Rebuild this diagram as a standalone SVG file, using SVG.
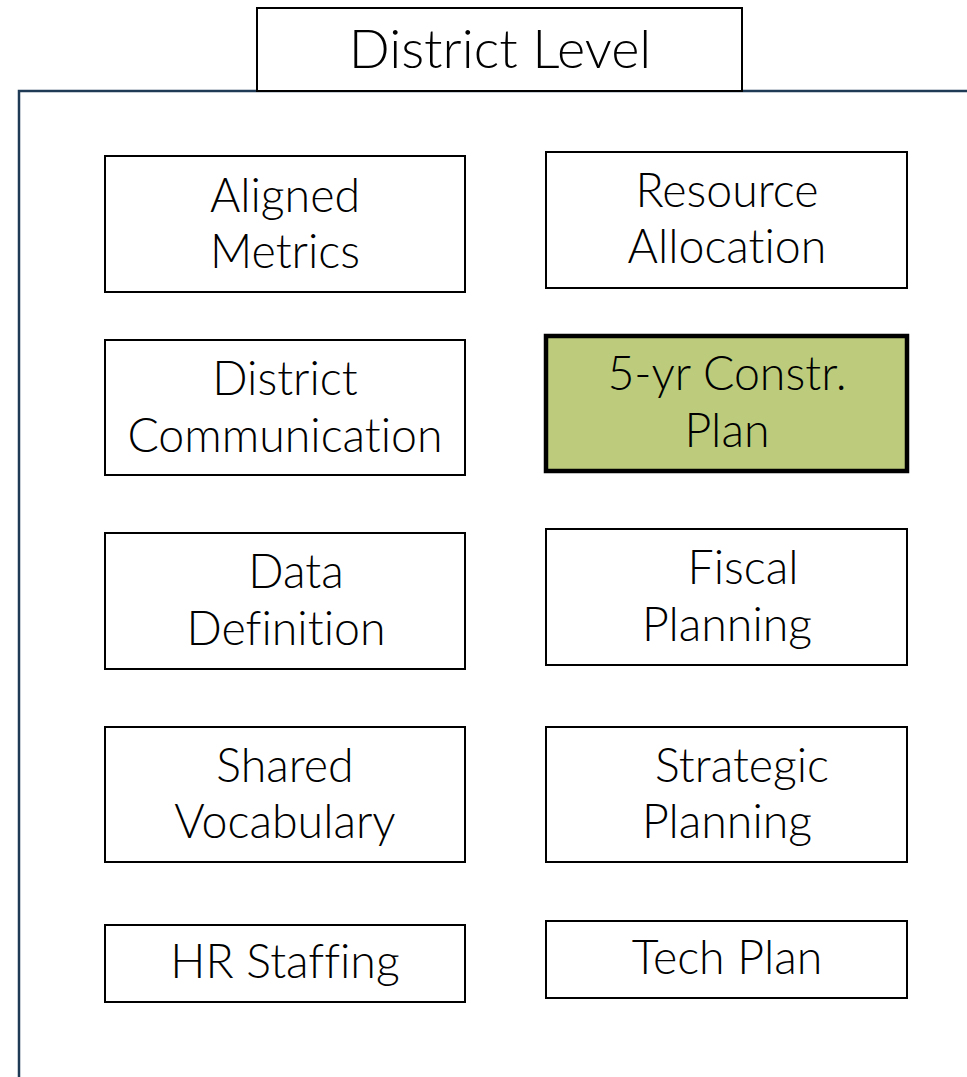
<svg xmlns="http://www.w3.org/2000/svg" width="967" height="1077" viewBox="0 0 967 1077">
<style>
.box{fill:#fff;stroke:#000;stroke-width:2}
.hl{fill:#bccc7c;stroke:#000;stroke-width:4.5}
text{font-family:Lato,"Open Sans","Liberation Sans",sans-serif;font-weight:300;font-size:46.5px;fill:#000;text-anchor:middle;font-variant-ligatures:none}
.frame{fill:none;stroke:#1f3a55;stroke-width:2.5}
</style>
<rect width="967" height="1077" fill="#fff"/>
<g id="connectors"></g>
<path class="frame" d="M19,1077 V91 H967"/>
<g id="title"><rect class="box" x="257" y="8" width="485" height="83"/><text x="500" y="68" style="font-size:54px">District Level</text></g>
<g id="aligned-metrics"><rect class="box" x="105" y="156" width="360" height="136"/><text x="285" y="212">Aligned</text><text x="285" y="268">Metrics</text></g>
<g id="resource-allocation"><rect class="box" x="546" y="152" width="361" height="136"/><text x="727" y="207">Resource</text><text x="727" y="263">Allocation</text></g>
<g id="district-communication"><rect class="box" x="105" y="340" width="360" height="135"/><text x="285" y="395">District</text><text x="285" y="452">Communication</text></g>
<g id="five-yr-plan"><rect class="hl" x="546" y="336" width="361" height="135"/><text x="727" y="390">5-yr Constr.</text><text x="727" y="447">Plan</text></g>
<g id="data-definition"><rect class="box" x="105" y="533" width="360" height="136"/><text x="296" y="588">Data</text><text x="286" y="645">Definition</text></g>
<g id="fiscal-planning"><rect class="box" x="546" y="529" width="361" height="136"/><text x="743" y="584">Fiscal</text><text x="727" y="641">Planning</text></g>
<g id="shared-vocabulary"><rect class="box" x="105" y="727" width="360" height="135"/><text x="285" y="782">Shared</text><text x="285" y="838">Vocabulary</text></g>
<g id="strategic-planning"><rect class="box" x="546" y="727" width="361" height="135"/><text x="742" y="782">Strategic</text><text x="727" y="838">Planning</text></g>
<g id="hr-staffing"><rect class="box" x="105" y="925" width="360" height="77"/><text x="285" y="978">HR Staffing</text></g>
<g id="tech-plan"><rect class="box" x="546" y="921" width="361" height="77"/><text x="727" y="974">Tech Plan</text></g>
</svg>
